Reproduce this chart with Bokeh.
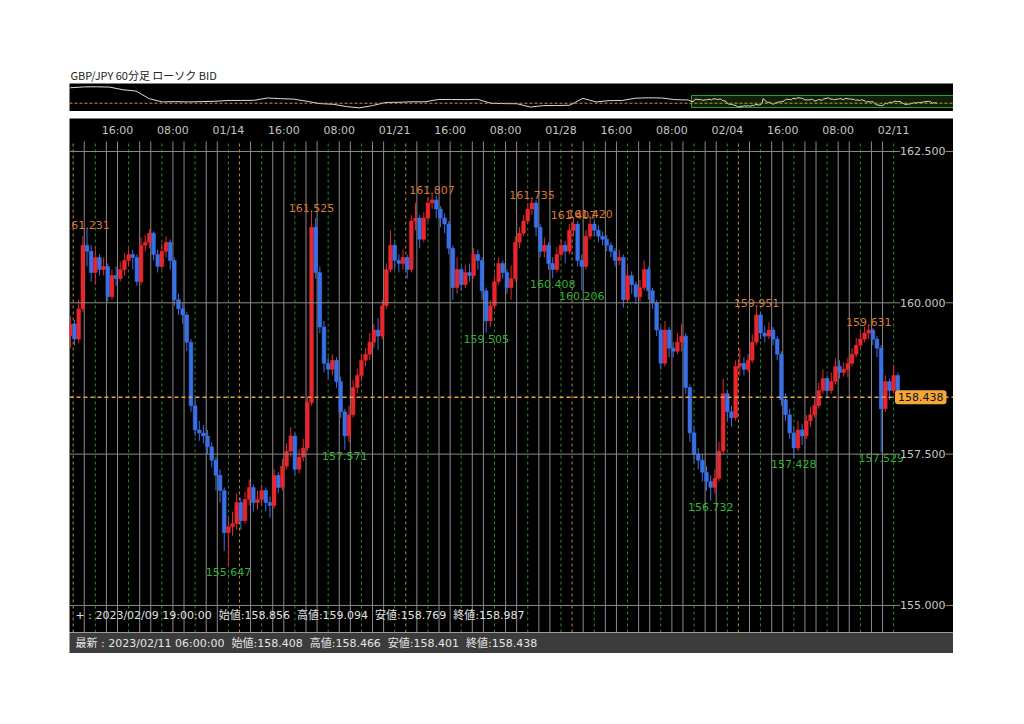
from bokeh.plotting import figure
from bokeh.models import Range1d, Label, Span, ColumnDataSource
from bokeh.layouts import column
from bokeh.embed import file_html
from bokeh.resources import INLINE
from bokeh.core.properties import value

# ---------------- data ----------------
TITLE = "GBP/JPY 60分足 ローソク BID"
BAR_HOURS = 3
FIRST_OPEN = 159.45
CLOSES = [
    159.65, 159.40, 159.90, 160.95, 160.85, 160.50, 160.75, 160.55, 160.60, 160.10,
    160.45, 160.40, 160.55, 160.70, 160.80, 160.75, 160.35, 160.95, 161.00, 161.15,
    160.80, 160.60, 160.85, 161.00, 160.70, 160.05, 159.90, 159.80, 159.35, 158.30,
    157.90, 157.85, 157.80, 157.62, 157.40, 157.15, 156.90, 156.20, 156.30, 156.35,
    156.70, 156.40, 156.75, 156.95, 156.70, 156.75, 156.90, 156.70, 156.65, 157.15,
    156.95, 157.30, 157.55, 157.80, 157.25, 157.45, 157.60, 158.35, 161.25, 160.50,
    159.60, 159.00, 158.90, 159.05, 158.70, 158.20, 157.80, 158.15, 158.60, 158.80,
    159.05, 159.15, 159.35, 159.55, 159.45, 159.95, 160.55, 160.95, 160.70, 160.65,
    160.75, 160.55, 161.35, 161.40, 161.05, 161.40, 161.65, 161.70, 161.55, 161.40,
    161.30, 160.90, 160.25, 160.55, 160.30, 160.50, 160.45, 160.80, 160.70, 160.20,
    159.70, 159.95, 160.35, 160.65, 160.50, 160.25, 160.40, 161.00, 161.15, 161.35,
    161.55, 161.65, 161.25, 160.85, 160.95, 160.65, 160.55, 160.80, 160.95, 160.85,
    161.20, 161.30, 160.70, 160.60, 161.10, 161.30, 161.20, 161.10, 161.05, 160.95,
    160.85, 160.70, 160.75, 160.05, 160.45, 160.30, 160.10, 160.25, 160.55, 160.20,
    160.00, 159.55, 159.00, 159.55, 159.25, 159.20, 159.35, 159.45, 158.60, 157.85,
    157.50, 157.40, 157.20, 157.05, 156.95, 157.10, 157.55, 158.50, 158.20, 158.10,
    158.95, 159.00, 158.90, 159.05, 159.35, 159.80, 159.50, 159.45, 159.55, 159.40,
    159.15, 158.40, 158.15, 157.85, 157.60, 157.90, 157.80, 158.05, 158.15, 158.30,
    158.55, 158.75, 158.55, 158.70, 158.95, 158.85, 158.90, 159.00, 159.15, 159.30,
    159.40, 159.50, 159.55, 159.40, 159.25, 158.25, 158.70, 158.55, 158.80, 158.438,
]
HIGHS = [
    159.78, 159.72, 160.05, 161.10, 161.231, 160.95, 160.92, 160.80, 160.75, 160.65,
    160.55, 160.60, 160.68, 160.82, 160.90, 160.88, 160.80, 161.08, 161.12, 161.22,
    161.18, 160.88, 160.98, 161.10, 161.05, 160.75, 160.15, 160.00, 159.85, 159.40,
    158.45, 158.05, 157.98, 157.90, 157.70, 157.45, 157.25, 156.95, 156.45, 156.55,
    156.85, 156.78, 156.88, 157.08, 157.00, 156.90, 157.00, 156.95, 156.80, 157.25,
    157.20, 157.42, 157.68, 157.95, 157.85, 157.58, 157.75, 158.45, 161.525, 161.40,
    160.60, 159.70, 159.10, 159.15, 159.10, 158.78, 158.25, 158.30, 158.72, 158.92,
    159.15, 159.25, 159.50, 159.65, 159.75, 160.05, 160.65, 161.20, 161.00, 160.80,
    160.88, 160.80, 161.45, 161.65, 161.45, 161.50, 161.75, 161.807, 161.78, 161.60,
    161.48, 161.35, 160.95, 160.75, 160.60, 160.62, 160.65, 160.90, 160.88, 160.75,
    160.25, 160.05, 160.48, 160.75, 160.70, 160.55, 160.62, 161.10, 161.25, 161.45,
    161.65, 161.735, 161.70, 161.30, 161.08, 161.00, 160.75, 160.92, 161.05, 161.02,
    161.30, 161.407, 161.35, 160.80, 161.20, 161.420, 161.38, 161.28, 161.18, 161.12,
    161.00, 160.90, 160.88, 160.80, 160.62, 160.52, 160.35, 160.38, 160.70, 160.60,
    160.25, 160.05, 159.60, 159.70, 159.60, 159.35, 159.50, 159.65, 159.50, 158.65,
    157.95, 157.60, 157.50, 157.30, 157.15, 157.25, 157.70, 158.75, 158.55, 158.30,
    159.05, 159.25, 159.10, 159.15, 159.48, 159.951, 159.85, 159.62, 159.68, 159.60,
    159.45, 159.20, 158.50, 158.25, 157.95, 158.05, 158.00, 158.15, 158.28, 158.42,
    158.68, 158.90, 158.80, 158.85, 159.08, 159.05, 159.02, 159.094, 159.25, 159.42,
    159.52, 159.60, 159.631, 159.58, 159.45, 159.30, 158.80, 158.75, 158.98, 158.85,
]
LOWS = [
    159.25, 159.30, 159.33, 159.85, 160.60, 160.35, 160.30, 160.45, 160.45, 160.02,
    160.05, 160.28, 160.35, 160.45, 160.60, 160.55, 160.28, 160.30, 160.85, 160.90,
    160.70, 160.50, 160.55, 160.75, 160.55, 159.95, 159.80, 159.65, 159.20, 158.20,
    157.80, 157.72, 157.68, 157.50, 157.28, 156.90, 156.70, 155.90, 155.647, 156.15,
    156.25, 156.25, 156.35, 156.65, 156.55, 156.58, 156.65, 156.55, 156.45, 156.60,
    156.85, 156.90, 157.25, 157.45, 157.15, 157.18, 157.38, 157.55, 158.30, 160.40,
    159.50, 158.85, 158.75, 158.80, 158.60, 158.10, 157.571, 157.70, 158.10, 158.50,
    158.70, 158.95, 159.05, 159.25, 159.22, 159.40, 159.90, 160.50, 160.55, 160.50,
    160.55, 160.40, 160.50, 161.20, 160.90, 161.00, 161.35, 161.55, 161.40, 161.25,
    161.15, 160.80, 160.05, 160.15, 160.20, 160.25, 160.35, 160.40, 160.55, 160.05,
    159.505, 159.60, 159.90, 160.30, 160.40, 160.15, 160.05, 160.35, 160.90, 161.10,
    161.30, 161.45, 161.10, 160.75, 160.75, 160.55, 160.408, 160.50, 160.75, 160.65,
    160.80, 161.10, 160.60, 160.206, 160.55, 161.05, 161.10, 161.00, 160.95, 160.85,
    160.75, 160.60, 160.62, 159.92, 160.00, 160.15, 159.98, 160.02, 160.20, 160.05,
    159.90, 159.45, 158.90, 158.95, 159.10, 159.10, 159.15, 159.20, 158.50, 157.70,
    157.35, 157.25, 157.05, 156.90, 156.732, 156.85, 157.05, 157.50, 158.05, 157.95,
    158.05, 158.80, 158.80, 158.85, 159.00, 159.30, 159.40, 159.35, 159.40, 159.30,
    159.05, 158.30, 158.05, 157.75, 157.428, 157.55, 157.65, 157.75, 157.95, 158.10,
    158.25, 158.50, 158.45, 158.50, 158.65, 158.75, 158.78, 158.769, 158.95, 159.10,
    159.25, 159.35, 159.40, 159.30, 159.10, 157.529, 158.20, 158.40, 158.50, 158.401,
]
TICK_LABELS = ["16:00", "08:00", "01/14", "16:00", "08:00", "01/21", "16:00", "08:00",
               "01/28", "16:00", "08:00", "02/04", "16:00", "08:00", "02/11"]
PRICE_LEVELS = [155.0, 157.5, 160.0, 162.5]
LAST_PRICE = 158.438
HIGH_MARKS = [161.231, 161.525, 161.807, 161.735, 161.407, 161.420, 159.951, 159.631]
LOW_MARKS = [155.647, 157.571, 159.505, 160.408, 160.206, 156.732, 157.428, 157.529]
NAV_HISTORY = [167.8, 168.3, 168.4, 168.2, 166.6, 165.8, 161.2, 159.2, 159.4, 159.2,
               159.4, 159.6, 160.1, 160.1, 160.2, 161.6, 161.2, 160.9, 159.6, 158.2,
               157.8, 156.4, 155.6, 157.0, 158.9, 159.0, 159.3, 159.3, 160.7, 160.7,
               160.6, 160.8, 158.4, 158.2, 158.1, 156.1, 157.0, 157.0, 157.2, 161.4,
               159.2, 160.0, 160.1, 161.5, 161.7, 161.6, 160.6, 160.4]
CROSS_INFO = "+ : 2023/02/09 19:00:00  始値:158.856  高値:159.094  安値:158.769  終値:158.987"
LATEST_INFO = "最新 : 2023/02/11 06:00:00  始値:158.408  高値:158.466  安値:158.401  終値:158.438"

# ---------------- layout constants ----------------
LEFT = 69
W = 953
X0, X1 = 0.36, 638.2          # hours shown in main chart
Y0, Y1 = 154.553, 163.045     # price range of main chart
MAIN_FRAME_H = 514
PX = MAIN_FRAME_H / (Y1 - Y0)
LAST_BAR_H = BAR_HOURS * (len(CLOSES) - 1) + 1

UP = "#e8262c"
DOWN = "#3a70e6"
HI_COL = "#d9783a"
LO_COL = "#33b233"
NUM_FONT = value("DejaVu Sans")
JP_FONT = "Noto Sans CJK JP"
INFO_FONT = "DejaVu Sans, Noto Sans CJK JP"


def keep_spaces(s):
    return s.replace("  ", "\u00a0\u00a0")


# ---------------- navigator ----------------
NX0 = X0 - 622 * (X1 - X0) / 262.0
nav = figure(width=W, height=111, x_range=Range1d(NX0, X1), y_range=Range1d(153.41, 170.38),
             min_border_left=LEFT, min_border_right=0, min_border_top=83, min_border_bottom=0,
             x_axis_location=None, y_axis_location=None, toolbar_location=None,
             output_backend="svg", background_fill_color="black", border_fill_color="white",
             outline_line_color=None)
nav.grid.visible = False
nav.title.text = TITLE
nav.title.align = "left"
nav.title.offset = 1
nav.title.standoff = 2
nav.title.text_font = JP_FONT
nav.title.text_font_size = "11px"
nav.title.text_font_style = "normal"
nav.title.text_color = "#222222"

nav.add_layout(Span(location=LAST_PRICE, dimension="width", line_color="#e0902e",
                    line_dash="3 2", line_width=1))
nav.quad(left=[X0], right=[X1], bottom=[155.83], top=[163.1], fill_color="#1c4a1c",
         fill_alpha=0.45, line_color="#2fa02f", line_width=1)
nav_h = [-1512 + 32 * k for k in range(len(NAV_HISTORY))]
hours = [BAR_HOURS * i + 1 for i in range(len(CLOSES))]
nav.line(nav_h + [hours[0]], NAV_HISTORY + [FIRST_OPEN], line_color="#dcdcdc", line_width=1)
nav.line(hours, CLOSES, line_color="#e6e6c8", line_width=1)

# ---------------- main chart ----------------
p = figure(width=W, height=MAIN_FRAME_H + 7, x_range=Range1d(X0, X1), y_range=Range1d(Y0, Y1),
           min_border_left=LEFT, min_border_right=0, min_border_top=7, min_border_bottom=0,
           x_axis_location=None, y_axis_location=None, toolbar_location=None,
           output_backend="svg", background_fill_color="black", border_fill_color="white",
           outline_line_color=None)
p.grid.visible = False

vtop = 162.5 + 10 / PX
grey_x, green_x, orange_x = [], [], []
for h in range(3, LAST_BAR_H + 1, 8):
    if (h - 3) % 120 == 0:
        orange_x.append(h)
    elif (h - 19) % 24 == 0:
        green_x.append(h)
    else:
        grey_x.append(h)
p.segment(x0=grey_x, y0=[Y0] * len(grey_x), x1=grey_x, y1=[vtop] * len(grey_x),
          line_color="#8a8a8a", line_width=1)
p.segment(x0=green_x, y0=[Y0] * len(green_x), x1=green_x, y1=[vtop] * len(green_x),
          line_color="#2a8c2a", line_width=1, line_dash="3 3")
p.segment(x0=orange_x, y0=[Y0] * len(orange_x), x1=orange_x, y1=[vtop] * len(orange_x),
          line_color="#b89040", line_width=1, line_dash="3 3")
for lv in PRICE_LEVELS:
    p.add_layout(Span(location=lv, dimension="width", line_color="#8a8a8a", line_width=1))

opens = [FIRST_OPEN] + CLOSES[:-1]
src = ColumnDataSource(dict(
    x=hours, h=HIGHS, l=LOWS,
    top=[max(o, c) for o, c in zip(opens, CLOSES)],
    bottom=[min(o, c) for o, c in zip(opens, CLOSES)],
    color=[UP if c >= o else DOWN for o, c in zip(opens, CLOSES)],
))
p.segment(x0="x", y0="l", x1="x", y1="h", line_color="color", line_width=1, source=src)
p.vbar(x="x", width=2.7, top="top", bottom="bottom", fill_color="color",
       line_color="color", line_width=0.5, source=src)

p.add_layout(Span(location=LAST_PRICE, dimension="width", line_color="#e8a040",
                  line_dash="4 3", line_width=1.5))

# tick labels (top)
tick_h = [35 + 40 * k for k in range(len(TICK_LABELS))]
p.text(x=tick_h, y=[Y1 - 12 / PX] * len(tick_h), text=TICK_LABELS, text_align="center",
       text_baseline="middle", text_color="#c4c4c4", text_font=NUM_FONT, text_font_size="11px")

# price labels (right)
for lv in PRICE_LEVELS:
    p.add_layout(Label(x=X1, y=lv, x_offset=-8, text=f"{lv:.3f}", text_align="right",
                       text_baseline="middle", text_color="#c8c8c8", text_font="DejaVu Sans",
                       text_font_size="11px", background_fill_color="black"))

# high / low marks
hx = [hours[HIGHS.index(v)] for v in HIGH_MARKS]
p.text(x=hx, y=[v + 3 / PX for v in HIGH_MARKS], text=[f"{v:.3f}" for v in HIGH_MARKS],
       text_align="center", text_baseline="alphabetic", text_color=HI_COL,
       text_font=NUM_FONT, text_font_size="11px")
lx = [hours[LOWS.index(v)] for v in LOW_MARKS]
p.text(x=lx, y=[v - 2 / PX for v in LOW_MARKS], text=[f"{v:.3f}" for v in LOW_MARKS],
       text_align="center", text_baseline="top", text_color=LO_COL,
       text_font=NUM_FONT, text_font_size="11px")

# last price box
p.add_layout(Label(x=X1, y=LAST_PRICE, x_offset=-7, text=f"{LAST_PRICE:.3f}", text_align="right",
                   text_baseline="middle", text_color="#111111", text_font="DejaVu Sans",
                   text_font_size="11px", background_fill_color="#f5a63a",
                   border_radius=3, padding=3))

# crosshair info
p.add_layout(Label(x=X0, y=Y0 + 17 / PX, x_offset=6, text=keep_spaces(CROSS_INFO),
                   text_baseline="middle", text_color="#e0e0e0", text_font=INFO_FONT,
                   text_font_size="11px"))

# ---------------- status bar ----------------
st = figure(width=W, height=21, x_range=Range1d(0, 1), y_range=Range1d(0, 1),
            min_border_left=LEFT, min_border_right=0, min_border_top=0, min_border_bottom=0,
            x_axis_location=None, y_axis_location=None, toolbar_location=None,
            output_backend="svg", background_fill_color="#3c3c3c", border_fill_color="white",
            outline_line_color=None)
st.grid.visible = False
st.add_layout(Label(x=0, y=0.5, x_offset=6, text=keep_spaces(LATEST_INFO), text_baseline="middle",
                    text_color="#e6e6e6", text_font=INFO_FONT, text_font_size="11px"))

layout = column(nav, p, st, spacing=0)
open("out.html", "w").write(file_html(layout, INLINE))
